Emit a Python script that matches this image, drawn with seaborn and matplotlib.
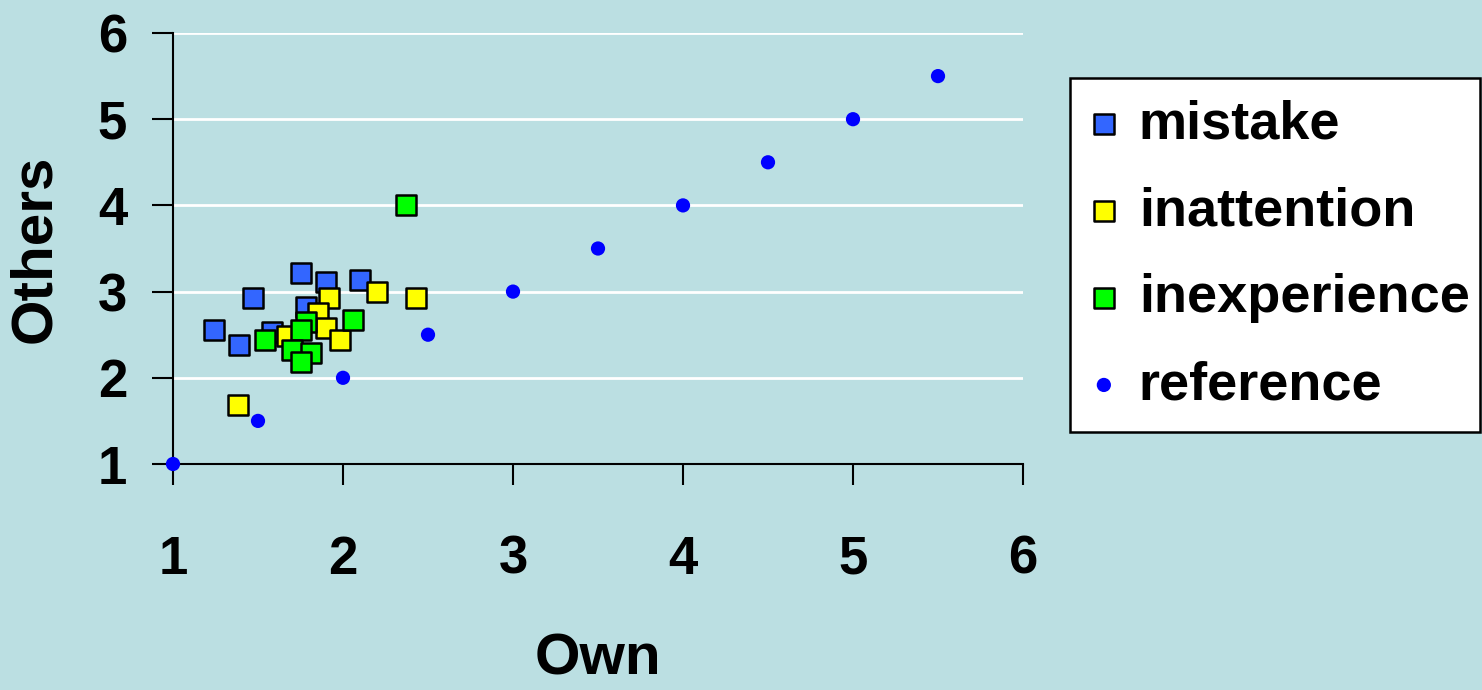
import matplotlib
matplotlib.use("Agg")
import matplotlib.pyplot as plt
import seaborn as sns
import pandas as pd

# data
mistake_x = [1.75, 1.90, 2.10, 1.47, 1.78, 1.24, 1.39, 1.58]
mistake_y = [3.22, 3.11, 3.13, 2.93, 2.82, 2.55, 2.38, 2.53]
inattention_x = [1.92, 2.20, 2.43, 1.85, 1.90, 1.98, 1.67, 1.38]
inattention_y = [2.93, 2.99, 2.93, 2.75, 2.58, 2.44, 2.48, 1.69]
inexperience_x = [2.37, 2.06, 1.78, 1.75, 1.54, 1.70, 1.81, 1.75]
inexperience_y = [4.00, 2.67, 2.65, 2.56, 2.44, 2.32, 2.29, 2.18]
reference_x = [1.0, 1.5, 2.0, 2.5, 3.0, 3.5, 4.0, 4.5, 5.0, 5.5]
reference_y = [1.0, 1.5, 2.0, 2.5, 3.0, 3.5, 4.0, 4.5, 5.0, 5.5]
ticks = [1, 2, 3, 4, 5, 6]

BG = "#BBDFE2"
sns.set_theme(style="white")
plt.rcParams["font.family"] = ["Liberation Sans", "DejaVu Sans"]
plt.rcParams["font.weight"] = "bold"
plt.rcParams["text.color"] = "black"
plt.rcParams["axes.labelcolor"] = "black"
plt.rcParams["xtick.color"] = "black"
plt.rcParams["ytick.color"] = "black"

fig = plt.figure(figsize=(14.82, 6.9), dpi=100, facecolor=BG)
ax = fig.add_axes([173/1482, 1-464/690, 850/1482, 431/690])
ax.set_facecolor(BG)

for yv in ticks[1:]:
    ax.axhline(yv, color="white", lw=2, zorder=0)

groups = [
    ("mistake", mistake_x, mistake_y, "#3366FF"),
    ("inattention", inattention_x, inattention_y, "#FFFF00"),
    ("inexperience", inexperience_x, inexperience_y, "#00FF00"),
]
for name, xs, ys, col in groups:
    df = pd.DataFrame({"x": xs, "y": ys})
    sns.scatterplot(data=df, x="x", y="y", marker="s", s=220, color=col,
                    edgecolor="black", linewidth=1.8, ax=ax, label=name,
                    zorder=3, clip_on=False)
dfr = pd.DataFrame({"x": reference_x, "y": reference_y})
sns.scatterplot(data=dfr, x="x", y="y", marker="o", s=105, color="#0000FF",
                edgecolor="none", ax=ax, label="reference", zorder=4, clip_on=False)

ax.set_xlim(1, 6)
ax.set_ylim(1, 6)
ax.set_xticks(ticks)
ax.set_yticks(ticks)
ax.set_xticklabels([str(t) for t in ticks], fontsize=38, fontweight="bold")
ax.set_yticklabels([str(t) for t in ticks], fontsize=38, fontweight="bold")
for s in ["top", "right"]:
    ax.spines[s].set_visible(False)
for s in ["left", "bottom"]:
    ax.spines[s].set_color("black")
    ax.spines[s].set_linewidth(1.5)
ax.tick_params(axis="x", direction="out", length=15, width=1.5, color="black", pad=36, bottom=True)
ax.tick_params(axis="y", direction="out", length=15, width=1.5, color="black", pad=18, left=True)
ax.set_xlabel("Own", fontsize=42, fontweight="bold", labelpad=34)
ax.set_ylabel("Others", fontsize=42, fontweight="bold", labelpad=26)

leg = ax.legend(loc="upper left",
                bbox_to_anchor=(1070/1482, 1-78/690, 410/1482, 0.0),
                bbox_transform=fig.transFigure, mode="expand",
                frameon=True, fancybox=False,
                prop={"size": 39, "weight": "bold"}, markerscale=1.0,
                handletextpad=0.42, labelspacing=0.68, borderpad=0.4,
                handlelength=0.45, borderaxespad=0)
leg.get_frame().set_edgecolor("black")
leg.get_frame().set_linewidth(1.8)
leg.get_frame().set_facecolor("white")
leg.get_frame().set_alpha(1)

fig.savefig("out.png", dpi=100, facecolor=BG)
